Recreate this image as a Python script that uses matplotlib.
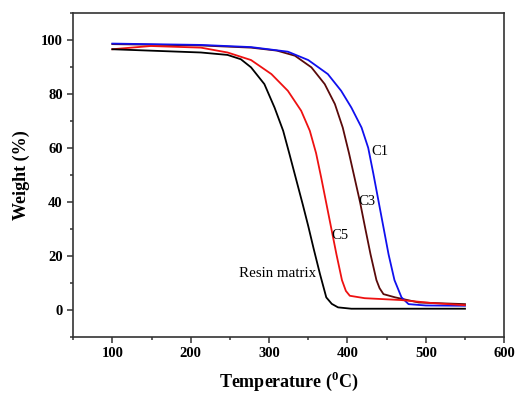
"""TGA curves: weight loss vs temperature."""
import matplotlib
matplotlib.use("Agg")
import matplotlib.pyplot as plt
from matplotlib.ticker import MultipleLocator

plt.rcParams['font.family'] = ['Liberation Serif', 'DejaVu Serif']
plt.rcParams['mathtext.fontset'] = 'custom'
plt.rcParams['mathtext.rm'] = 'Liberation Serif:bold'
plt.rcParams['mathtext.bf'] = 'Liberation Serif:bold'

# temperature (C) / weight (%)
temp_c1 = [100, 213, 277, 324, 350, 375, 392, 405, 418, 426.5, 433, 439.5, 446,
           452.5, 460, 469, 478, 500, 550]
wt_c1 = [98.6, 98.1, 97.3, 95.6, 92.5, 87.3, 81.1, 74.9, 67.5, 60, 50.5, 40.5,
         30.5, 20.5, 11, 4.6, 2.1, 1.6, 1.5]

temp_c3 = [100, 213, 277, 310, 333, 354, 371, 384, 394, 402, 409, 416, 422.5,
           429.5, 437, 441, 446, 461, 491, 550]
wt_c3 = [98.4, 97.9, 97.1, 96, 94.1, 89.8, 83.6, 76.2, 67.5, 58, 49, 40, 30.5,
         20.5, 11, 8, 5.8, 4.6, 2.7, 2.1]

temp_c5 = [100, 149, 213, 247, 277, 303, 324, 341, 352, 360, 366.5, 373, 379.5,
           386, 393, 398, 403, 422, 469, 508, 550]
wt_c5 = [96.5, 97.7, 97.1, 95.3, 92.5, 87.3, 81.1, 73.7, 66.3, 58, 49, 39.5, 30,
         20.5, 11, 7, 5.2, 4.3, 3.6, 2.5, 1.7]

temp_resin = [100, 213, 247, 264, 277, 294, 307, 318, 326, 335, 343, 350, 357,
              365, 373, 380, 388, 405, 550]
wt_resin = [96.5, 95.3, 94.4, 92.8, 89.8, 83.6, 74.9, 66.3, 57.7, 47.8, 39, 31,
            22.5, 13.2, 4.6, 2.2, 0.9, 0.4, 0.4]

fig = plt.figure(figsize=(5.15, 4.0), dpi=100)
ax = fig.add_axes([0.142, 0.158, 0.837, 0.81])

ax.plot(temp_c3, wt_c3, color='#5a0a0a', lw=1.3)
ax.plot(temp_c1, wt_c1, color='#1010ee', lw=1.3)
ax.plot(temp_c5, wt_c5, color='#ee1111', lw=1.3)
ax.plot(temp_resin, wt_resin, color='black', lw=1.3)

ax.text(431, 58.5, 'C1', fontsize=10.5, va='center')
ax.text(414, 40, 'C3', fontsize=10.5, va='center')
ax.text(379.5, 27.5, 'C5', fontsize=10.5, va='center')
ax.text(360, 13.3, 'Resin matrix', fontsize=10.8, va='center', ha='right')

ax.set_xlim(50, 600)
ax.set_ylim(-10, 110)
ax.xaxis.set_major_locator(MultipleLocator(100))
ax.xaxis.set_minor_locator(MultipleLocator(50))
ax.yaxis.set_major_locator(MultipleLocator(20))
ax.yaxis.set_minor_locator(MultipleLocator(10))
ax.tick_params(which='both', direction='out', top=False, right=False,
               width=1.1, color='#333333')
ax.tick_params(which='major', length=4, labelsize=10.5)
ax.tick_params(which='minor', length=2.5)
for lab in ax.get_xticklabels() + ax.get_yticklabels():
    lab.set_fontweight('bold')
for sp in ax.spines.values():
    sp.set_linewidth(1.2)
    sp.set_color('#333333')

ax.set_xlabel(r'Temperature ($^{0}$C)', fontsize=13, fontweight='bold', labelpad=7)
ax.set_ylabel('Weight (%)', fontsize=13, fontweight='bold', labelpad=8)

fig.savefig('out.png', dpi=100)
